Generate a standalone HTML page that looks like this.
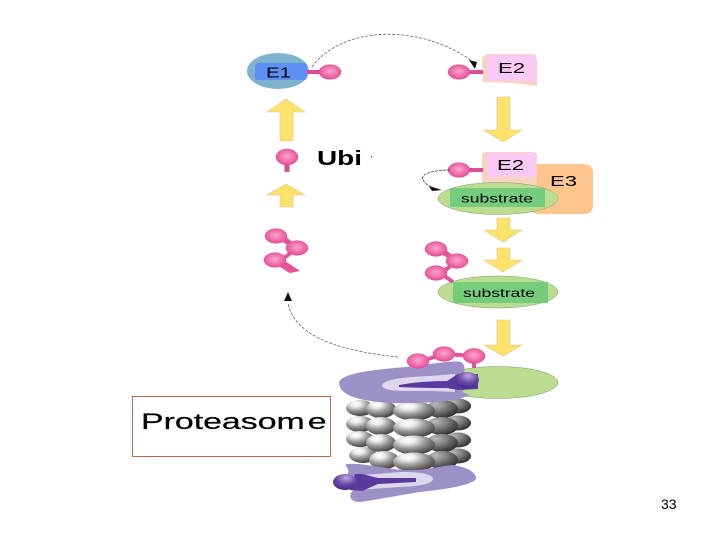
<!DOCTYPE html>
<html><head><meta charset="utf-8"><style>html,body{margin:0;padding:0;background:#fff;width:720px;height:540px;overflow:hidden}svg{display:block}text{font-family:"Liberation Sans",sans-serif;fill:#000}</style></head><body>
<svg width="720" height="540" viewBox="0 0 720 540" xmlns="http://www.w3.org/2000/svg">
<defs>
<radialGradient id="p" cx="50%" cy="45%" r="60%"><stop offset="0" stop-color="#fba6cc"/><stop offset="0.6" stop-color="#f06aa8"/><stop offset="1" stop-color="#dc4a92"/></radialGradient>
<radialGradient id="g" cx="35%" cy="25%" r="85%"><stop offset="0" stop-color="#fff"/><stop offset="0.2" stop-color="#eee"/><stop offset="0.5" stop-color="#999"/><stop offset="1" stop-color="#2e2e2e"/></radialGradient>
<radialGradient id="d" cx="30%" cy="25%" r="85%"><stop offset="0" stop-color="#bbb"/><stop offset="0.45" stop-color="#7c7c7c"/><stop offset="1" stop-color="#262626"/></radialGradient>
<radialGradient id="v" cx="55%" cy="25%" r="75%"><stop offset="0" stop-color="#b8a8dc"/><stop offset="0.55" stop-color="#6a4aa8"/><stop offset="1" stop-color="#4a2a88"/></radialGradient>
<g id="b"><ellipse rx="11" ry="7.300" fill="url(#p)" stroke="#d84c90" stroke-width=".5"/></g>
</defs>

<!-- E1 -->
<ellipse cx="278" cy="71" rx="31" ry="18" fill="#7fb2cf"/>
<rect x="255" y="63" width="52" height="17" rx="3" fill="#5d90f2"/>
<text x="266" y="77.500" font-size="15" textLength="25" lengthAdjust="spacingAndGlyphs">E1</text>
<rect x="307" y="70" width="15" height="4" fill="#dd4a92"/>
<use href="#b" x="330" y="72"/>

<!-- arc E1 to E2 -->
<path d="M312 67C340 27 420 21 476 64" fill="none" stroke="#666" stroke-width=".8" stroke-dasharray="3 1.500"/>
<path d="M469 60L477 62 475 69Z" fill="#111"/>

<!-- E2 top -->
<path d="M482 60Q483 55 488 54H532Q536 54 537 60V86Q510 82 483 82Z" fill="#f8d4c0"/>
<path d="M487 55H536V82Q510 80 487 80Z" fill="#fbc9f6"/>
<text x="498" y="73" font-size="15" textLength="27" lengthAdjust="spacingAndGlyphs">E2</text>
<rect x="468" y="70" width="15" height="4" fill="#dd4a92"/>
<use href="#b" x="459" y="72"/>

<path d="M497 97H510V130H522L503 142 484 130H497Z" fill="#fde36c" stroke="#d8c890" stroke-width=".6"/>

<!-- left arrows -->
<path d="M280 141V112H267L286 99 305 112H293V141Z" fill="#fde36c" stroke="#d8c890" stroke-width=".6"/>
<path d="M280 207V195H267L286 184 305 195H293V207Z" fill="#fde36c" stroke="#d8c890" stroke-width=".6"/>

<!-- Ubi -->
<rect x="284.500" y="160" width="5" height="12" fill="#dd4a92"/>
<ellipse cx="287" cy="157" rx="11" ry="8" fill="url(#p)" stroke="#d84c90" stroke-width=".5"/>
<text x="317" y="165" font-size="20" font-weight="bold" textLength="45" lengthAdjust="spacingAndGlyphs">Ubi</text>
<text x="371" y="162" font-size="8">'</text>

<!-- E3 / E2 / substrate -->
<rect x="530" y="164" width="63" height="50" rx="8" fill="#fcc68e"/>
<text x="550" y="186" font-size="15" textLength="27" lengthAdjust="spacingAndGlyphs">E3</text>
<rect x="482" y="152" width="55" height="36" rx="4" fill="#f8d4c0"/>
<rect x="487" y="153" width="49" height="24" fill="#fbc9f6"/>
<text x="497" y="170" font-size="15" textLength="27" lengthAdjust="spacingAndGlyphs">E2</text>
<rect x="468" y="168" width="15" height="4" fill="#dd4a92"/>
<use href="#b" x="459" y="170"/>
<ellipse cx="498" cy="198.500" rx="60" ry="16" fill="#bcdc90" stroke="#7a9a70" stroke-width=".5"/>
<rect x="450" y="188" width="95" height="19" fill="#74cc7c"/>
<text x="461" y="202.500" font-size="11.500" textLength="72" lengthAdjust="spacingAndGlyphs">substrate</text>
<path d="M450 170C430 170 420 175 423 180 426 185 432 188 440 190" fill="none" stroke="#444" stroke-width=".8" stroke-dasharray="3 1"/>
<path d="M429 186L442 190 432 191Z" fill="#111"/>

<!-- arrows right -->
<path d="M497 218H510V230H522L503 242 484 230H497Z" fill="#fde36c" stroke="#d8c890" stroke-width=".6"/>
<path d="M497 248H510V260H522L503 272 484 260H497Z" fill="#fde36c" stroke="#d8c890" stroke-width=".6"/>
<path d="M497 320H510V345H522L503 356 484 345H497Z" fill="#fde36c" stroke="#d8c890" stroke-width=".6"/>

<!-- left chain -->
<path d="M284 238L297 248 284 258 283 262 295 270 290 271 276 262M297 248L276 236" fill="none" stroke="#e2559a" stroke-width="4"/>
<use href="#b" x="276" y="236"/><use href="#b" x="297" y="248"/><use href="#b" x="275" y="260"/>

<!-- right chain + substrate 2 -->
<ellipse cx="498" cy="292" rx="60" ry="16" fill="#bcdc90" stroke="#7a9a70" stroke-width=".5"/>
<rect x="453" y="282" width="95" height="21" fill="#74cc7c"/>
<text x="463" y="297" font-size="12" textLength="72" lengthAdjust="spacingAndGlyphs">substrate</text>
<path d="M444 251L457 261 444 271 443 275 453 282M457 261L436 249" fill="none" stroke="#e2559a" stroke-width="4"/>
<use href="#b" x="436" y="249"/><use href="#b" x="457" y="261"/><use href="#b" x="436" y="273"/>

<!-- return arc -->
<path d="M398 357C350 352 295 340 288 303" fill="none" stroke="#666" stroke-width=".8" stroke-dasharray="3 1.500"/>
<path d="M288 292L292 301 284 301Z" fill="#111"/>

<!-- green target -->
<ellipse cx="498" cy="382.500" rx="60" ry="16" fill="#bcdc90" stroke="#7a9a70" stroke-width=".5"/>

<!-- gray barrel -->
<g>
<ellipse cx="458" cy="406" rx="13" ry="7.500" fill="url(#d)"/><ellipse cx="458" cy="423" rx="13" ry="7.500" fill="url(#d)"/><ellipse cx="458" cy="440" rx="13" ry="7.500" fill="url(#d)"/><ellipse cx="458" cy="456" rx="13" ry="7.500" fill="url(#d)"/>
<ellipse cx="442" cy="409" rx="16" ry="9" fill="url(#d)"/><ellipse cx="442" cy="426" rx="16" ry="9" fill="url(#d)"/><ellipse cx="442" cy="443" rx="16" ry="9" fill="url(#d)"/><ellipse cx="442" cy="460" rx="16" ry="9" fill="url(#d)"/>
<ellipse cx="360" cy="408" rx="14" ry="8" fill="url(#g)"/><ellipse cx="360" cy="424" rx="14" ry="8" fill="url(#g)"/><ellipse cx="360" cy="439" rx="14" ry="8" fill="url(#g)"/><ellipse cx="363" cy="455" rx="14" ry="8" fill="url(#g)"/>
<ellipse cx="381" cy="409" rx="15" ry="9" fill="url(#g)"/><ellipse cx="381" cy="426" rx="15" ry="9" fill="url(#g)"/><ellipse cx="381" cy="443" rx="15" ry="9" fill="url(#g)"/><ellipse cx="384" cy="460" rx="15" ry="9" fill="url(#g)"/>
<ellipse cx="414" cy="411" rx="21" ry="9.500" fill="url(#g)"/><ellipse cx="414" cy="428" rx="21" ry="9.500" fill="url(#g)"/><ellipse cx="414" cy="445" rx="21" ry="9.500" fill="url(#g)"/><ellipse cx="414" cy="462" rx="21" ry="9.500" fill="url(#g)"/>
</g>

<!-- top purple cap -->
<path d="M339 383C340 372 385 369 405 367 430 364 455 360 461 362 466 365 465 372 462 376L470 385 462 392 470 395C462 400 430 404 395 403 360 402 339 395 339 383Z" fill="#9d90c6"/>
<path d="M382 385C384 380 400 377 430 376L455 374V392L430 391C405 391 382 392 382 385Z" fill="#dcd6ee"/>
<path d="M399 385Q420 381 447 381L458 374H478V389L458 390 447 388Q420 388 399 387Z" fill="#5a3a9c"/>
<ellipse cx="467" cy="380" rx="12" ry="8" fill="url(#v)"/>

<!-- bottom purple cap -->
<path d="M345 465C352 461 380 468 403 470 425 471 440 466 453 465 466 467 476 472 476 478 476 484 450 489 420 492 395 496 375 500 360 502 350 502 348 496 353 490 345 488 335 484 334 481 340 477 355 476 345 465Z" fill="#9d90c6"/>
<path d="M352 476L400 472C425 472 433 475 433 479 432 484 420 486 400 487L355 490Z" fill="#dcd6ee"/>
<path d="M355 474H362L378 478 416 478 416 482 378 484 362 491 350 490Z" fill="#5a3a9c"/>
<ellipse cx="345" cy="482" rx="12" ry="8" fill="url(#v)"/>

<!-- balls on proteasome -->
<path d="M428 359L444 354 474 356M474 358V368" fill="none" stroke="#e2559a" stroke-width="4"/>
<use href="#b" x="418" y="361"/><use href="#b" x="444" y="354"/><ellipse cx="474" cy="356" rx="11" ry="7.500" fill="url(#p)" stroke="#d84c90" stroke-width=".5"/>

<!-- Proteasome label -->
<rect x="132.500" y="396.500" width="198" height="60" fill="#fff" stroke="#c0654a" stroke-width="1"/>
<text transform="translate(141 429) scale(1.54 1)" font-size="22" stroke="#000" stroke-width=".2">Proteasom<tspan dx="2">e</tspan></text>

<text x="661" y="509" font-size="14" fill="#000">33</text>
</svg>
</body></html>
